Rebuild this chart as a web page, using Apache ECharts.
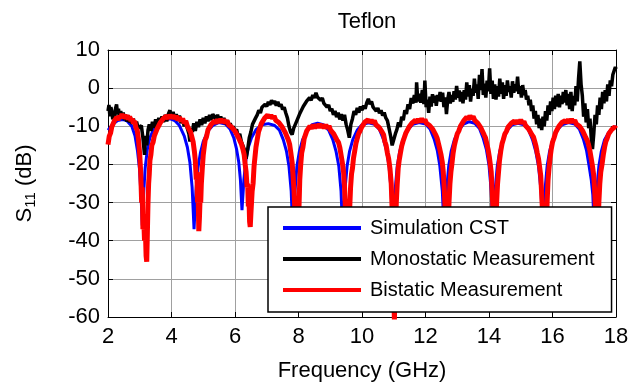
<!DOCTYPE html>
<html>
<head>
<meta charset="utf-8">
<script src="https://cdn.jsdelivr.net/npm/echarts@6/dist/echarts.min.js"></script>
<style>html,body{margin:0;padding:0;background:#fff;}#c{width:635px;height:387px;}</style>
</head>
<body>
<div id="c"></div>
<script>
var xTicks = [2, 4, 6, 8, 10, 12, 14, 16, 18];
var yTicks = [-60, -50, -40, -30, -20, -10, 0, 10];
var seriesNames = ['Simulation CST', 'Monostatic Measurement', 'Bistatic Measurement'];

var simulationCST = [
[2.00,-11.0],[2.15,-9.5],[2.30,-8.5],[2.45,-8.2],[2.60,-8.6],[2.75,-10.0],[2.85,-12.5],[2.93,-16.5],[2.99,-21],[3.04,-28],[3.08,-36],[3.12,-28],[3.17,-21],[3.24,-16],[3.32,-13],[3.45,-10.5],[3.60,-9.0],[3.78,-8.2],[3.95,-8.0],[4.10,-8.5],[4.25,-9.8],[4.40,-12.5],[4.50,-15.5],[4.58,-19.5],[4.65,-26],[4.71,-37],[4.77,-27],[4.83,-21],[4.91,-17],[5.00,-14],[5.15,-11.2],[5.30,-9.8],[5.50,-9.0],[5.70,-9.4],[5.85,-10.8],[5.96,-13],[6.05,-16],[6.12,-19.5],[6.17,-24],[6.22,-32],[6.28,-24],[6.34,-19],[6.42,-15.5],[6.52,-13],[6.67,-10.8],[6.85,-9.6],[7.05,-9.3],[7.25,-9.8],[7.40,-11],[7.52,-13.5],[7.62,-16.5],[7.70,-20.5],[7.77,-27],[7.83,-40],[7.89,-27],[7.95,-20.5],[8.03,-16.5],[8.13,-13.5],[8.28,-11],[8.43,-9.6],[8.60,-9.2],[8.78,-9.6],[8.95,-11],[9.08,-13.5],[9.18,-16.5],[9.27,-20.5],[9.34,-27],[9.40,-40],[9.46,-27],[9.53,-20.5],[9.61,-16.5],[9.71,-13.5],[9.85,-11],[10.00,-9.6],[10.20,-9.1],[10.40,-9.5],[10.55,-10.8],[10.67,-13.3],[10.77,-16.3],[10.85,-20.3],[10.92,-27],[10.98,-42],[11.04,-27],[11.11,-20.5],[11.19,-16.5],[11.29,-13.5],[11.44,-11],[11.60,-9.5],[11.80,-9.0],[12.00,-9.4],[12.15,-10.8],[12.27,-13.3],[12.37,-16.3],[12.45,-20.3],[12.53,-27],[12.60,-40],[12.66,-27],[12.73,-20.5],[12.81,-16.5],[12.91,-13.5],[13.05,-11],[13.20,-9.4],[13.38,-8.8],[13.55,-9.2],[13.70,-10.6],[13.82,-13.2],[13.92,-16.2],[14.00,-20.2],[14.07,-27],[14.13,-40],[14.19,-27],[14.26,-20.5],[14.34,-16.5],[14.44,-13.5],[14.58,-11],[14.73,-9.6],[14.92,-9.2],[15.10,-9.6],[15.25,-11],[15.37,-13.5],[15.47,-16.5],[15.56,-20.5],[15.64,-27],[15.70,-40],[15.76,-27],[15.83,-20.5],[15.91,-16.5],[16.01,-13.5],[16.15,-11],[16.30,-9.6],[16.50,-9.0],[16.70,-9.4],[16.85,-10.8],[16.97,-13.3],[17.07,-16.3],[17.15,-20.3],[17.22,-24],[17.27,-28],[17.33,-40],[17.39,-27],[17.46,-20.5],[17.54,-16.5],[17.64,-13.5],[17.78,-11.5],[17.90,-10.5],[18.00,-10.0]
];

var monostatic = [
[2.00,-6.0],[2.03,-4.4],[2.06,-7.4],[2.09,-5.0],[2.12,-6.0],[2.15,-8.2],[2.18,-6.2],[2.21,-8.0],[2.24,-5.2],[2.27,-4.3],[2.30,-6.8],[2.33,-5.4],[2.36,-7.6],[2.40,-6.0],[2.44,-7.8],[2.48,-6.4],[2.52,-8.4],[2.56,-7.0],[2.60,-8.8],[2.64,-7.2],[2.68,-9.0],[2.72,-7.8],[2.76,-9.4],[2.80,-8.0],[2.85,-9.8],[2.90,-8.8],[2.95,-10.5],[3.00,-11.0],[3.05,-9.8],[3.10,-13.0],[3.15,-17.5],[3.18,-12.5],[3.22,-15],[3.26,-11],[3.30,-9.5],[3.35,-11.2],[3.40,-8.8],[3.45,-10.4],[3.50,-8.2],[3.55,-9.8],[3.60,-7.8],[3.65,-9.2],[3.70,-7.4],[3.75,-8.9],[3.80,-7.0],[3.85,-8.7],[3.90,-6.8],[3.95,-5.8],[4.00,-7.9],[4.05,-6.2],[4.10,-8.1],[4.15,-6.8],[4.20,-8.6],[4.25,-7.2],[4.30,-9.2],[4.35,-8.0],[4.40,-10.0],[4.45,-8.6],[4.50,-10.6],[4.55,-12.0],[4.58,-14.0],[4.62,-10.5],[4.66,-11.5],[4.70,-9.2],[4.75,-11.2],[4.80,-8.8],[4.85,-10.2],[4.90,-8.2],[4.95,-9.7],[5.00,-7.8],[5.05,-9.2],[5.10,-7.4],[5.15,-8.7],[5.20,-7.0],[5.25,-8.4],[5.30,-6.8],[5.35,-6.5],[5.40,-8.2],[5.45,-7.0],[5.50,-8.5],[5.55,-7.4],[5.60,-9.0],[5.65,-7.8],[5.70,-9.4],[5.75,-8.4],[5.80,-10.0],[5.85,-9.2],[5.90,-10.7],[5.95,-10.0],[6.00,-11.4],[6.05,-10.8],[6.10,-12.7],[6.15,-12.0],[6.20,-14.0],[6.25,-14.3],[6.30,-16.2],[6.35,-18.5],[6.40,-16.0],[6.45,-13.0],[6.50,-11.5],[6.55,-9.5],[6.60,-10.0],[6.65,-7.8],[6.70,-7.0],[6.75,-5.8],[6.80,-6.5],[6.85,-5.0],[6.90,-5.5],[6.95,-4.2],[7.00,-4.8],[7.05,-3.6],[7.10,-4.4],[7.15,-3.2],[7.20,-4.0],[7.25,-3.4],[7.30,-4.6],[7.35,-3.6],[7.40,-4.8],[7.45,-4.2],[7.50,-5.6],[7.55,-5.0],[7.60,-6.5],[7.65,-7.8],[7.70,-10.0],[7.75,-11.5],[7.80,-12.2],[7.85,-10.5],[7.90,-11.0],[7.95,-8.5],[8.00,-9.0],[8.05,-6.5],[8.10,-7.0],[8.15,-4.8],[8.20,-5.2],[8.25,-3.5],[8.30,-4.0],[8.35,-2.5],[8.40,-3.2],[8.45,-1.8],[8.50,-2.6],[8.55,-1.2],[8.60,-2.4],[8.65,-2.0],[8.70,-3.2],[8.75,-2.6],[8.80,-4.0],[8.85,-3.6],[8.90,-5.0],[8.95,-4.4],[9.00,-6.0],[9.05,-5.4],[9.10,-7.0],[9.15,-6.0],[9.20,-7.6],[9.25,-6.4],[9.30,-8.2],[9.35,-6.8],[9.40,-8.5],[9.45,-7.0],[9.50,-9.5],[9.55,-11.0],[9.60,-13.0],[9.65,-9.5],[9.70,-8.0],[9.75,-6.0],[9.80,-7.0],[9.85,-5.2],[9.90,-6.4],[9.95,-4.8],[10.00,-5.8],[10.05,-4.6],[10.10,-5.4],[10.15,-3.8],[10.20,-2.8],[10.25,-4.2],[10.30,-3.5],[10.35,-5.0],[10.40,-4.6],[10.45,-6.0],[10.50,-5.2],[10.55,-6.6],[10.60,-5.8],[10.65,-7.2],[10.70,-6.4],[10.75,-7.8],[10.80,-8.5],[10.85,-10.5],[10.90,-12.5],[10.95,-15.0],[11.00,-14.5],[11.05,-12.0],[11.10,-10.8],[11.15,-9.0],[11.20,-10.2],[11.25,-7.5],[11.30,-8.4],[11.35,-5.8],[11.40,-6.8],[11.45,-4.2],[11.50,-5.5],[11.55,-2.6],[11.60,-4.0],[11.65,-1.8],[11.70,-3.8],[11.72,1.5],[11.76,-3.5],[11.80,-1.5],[11.85,-3.8],[11.90,-0.5],[11.95,-4.2],[11.98,2.0],[12.02,-5.0],[12.06,-3.0],[12.10,-6.5],[12.14,-2.2],[12.18,-4.8],[12.22,-1.6],[12.26,-3.8],[12.30,-2.0],[12.34,-4.6],[12.38,-1.8],[12.42,-3.4],[12.46,-1.0],[12.50,-3.6],[12.54,-1.2],[12.58,-5.0],[12.62,-2.4],[12.66,-6.8],[12.70,-3.0],[12.74,-1.0],[12.78,-4.0],[12.82,-1.8],[12.86,-3.6],[12.90,-0.8],[12.94,-3.0],[12.98,0.6],[13.02,-2.5],[13.06,-0.6],[13.10,-3.5],[13.14,-1.0],[13.18,-4.0],[13.22,-0.5],[13.26,-3.0],[13.30,1.5],[13.34,-2.2],[13.38,0.8],[13.42,-3.5],[13.46,-0.2],[13.50,-2.0],[13.54,2.5],[13.58,-1.2],[13.62,1.0],[13.66,-2.8],[13.70,3.5],[13.74,-0.5],[13.78,5.0],[13.82,-1.8],[13.86,1.2],[13.90,-2.5],[13.94,2.0],[13.98,-0.8],[14.02,5.2],[14.06,-1.5],[14.10,2.0],[14.14,-2.8],[14.18,1.0],[14.22,-3.0],[14.26,0.5],[14.30,-2.2],[14.34,2.5],[14.38,-1.5],[14.42,1.5],[14.46,-2.8],[14.50,0.8],[14.54,-2.0],[14.58,2.0],[14.62,-1.0],[14.66,0.5],[14.70,-2.5],[14.74,1.8],[14.78,-1.2],[14.82,1.0],[14.86,-0.8],[14.90,3.0],[14.94,-1.5],[14.98,0.5],[15.02,-2.5],[15.06,0.8],[15.10,-1.8],[15.14,-0.5],[15.18,-3.0],[15.22,-2.0],[15.26,-4.5],[15.30,-3.0],[15.34,-6.0],[15.38,-4.5],[15.42,-8.0],[15.46,-6.0],[15.50,-9.5],[15.54,-7.0],[15.58,-10.5],[15.62,-8.0],[15.66,-11.0],[15.70,-7.5],[15.74,-10.0],[15.78,-6.0],[15.82,-8.5],[15.86,-4.5],[15.90,-7.0],[15.94,-3.5],[15.98,-6.0],[16.02,-2.5],[16.06,-5.5],[16.10,-2.0],[16.14,-4.8],[16.18,-1.5],[16.22,-5.0],[16.26,-2.0],[16.30,-4.2],[16.34,-1.0],[16.38,-3.8],[16.42,-0.5],[16.46,-4.5],[16.50,-1.5],[16.54,-5.5],[16.58,-1.0],[16.62,-6.0],[16.66,-2.0],[16.70,-4.5],[16.74,0.5],[16.78,-3.5],[16.82,2.5],[16.86,7.0],[16.90,1.0],[16.94,-2.0],[16.98,-7.5],[17.02,-4.0],[17.06,-9.0],[17.10,-5.5],[17.14,-10.5],[17.18,-8.0],[17.22,-13.0],[17.26,-16.0],[17.30,-12.0],[17.34,-7.0],[17.38,-9.5],[17.42,-4.5],[17.46,-7.0],[17.50,-2.5],[17.54,-5.5],[17.58,-1.0],[17.62,-4.0],[17.66,-0.5],[17.70,-3.5],[17.74,1.0],[17.78,-2.0],[17.82,2.0],[17.86,0.5],[17.90,3.5],[17.94,4.0],[17.98,5.5],[18.00,5.0]
];

var bistatic = [
[2.00,-14.8],[2.04,-12.6],[2.08,-11.8],[2.12,-10.1],[2.16,-10.0],[2.20,-8.6],[2.24,-9.0],[2.28,-7.6],[2.32,-8.4],[2.36,-7.2],[2.40,-7.9],[2.44,-6.8],[2.48,-7.8],[2.52,-7.0],[2.56,-8.0],[2.60,-7.1],[2.64,-8.2],[2.68,-7.4],[2.72,-8.6],[2.76,-8.0],[2.80,-9.2],[2.84,-8.6],[2.88,-10.4],[2.92,-11.0],[2.96,-13.5],[3.00,-17.5],[3.03,-22],[3.06,-30],[3.08,-26],[3.10,-37],[3.12,-33],[3.15,-40],[3.18,-38],[3.20,-44],[3.22,-45.5],[3.24,-38],[3.26,-30],[3.28,-25],[3.30,-22.5],[3.32,-19],[3.35,-17.5],[3.38,-15],[3.42,-14.2],[3.46,-12.5],[3.50,-12.4],[3.55,-10.6],[3.60,-10.4],[3.65,-9.0],[3.70,-9.2],[3.75,-7.9],[3.80,-8.4],[3.85,-7.3],[3.90,-8.0],[3.95,-7.0],[4.00,-7.9],[4.05,-7.1],[4.10,-8.0],[4.15,-7.3],[4.20,-8.4],[4.25,-7.6],[4.30,-8.7],[4.35,-8.0],[4.40,-9.2],[4.45,-8.6],[4.50,-10.0],[4.55,-9.8],[4.60,-11.5],[4.64,-11.8],[4.68,-14.0],[4.72,-16.5],[4.75,-19],[4.78,-24],[4.80,-22],[4.82,-30],[4.84,-28],[4.86,-37.5],[4.88,-34],[4.90,-29],[4.92,-30],[4.94,-25],[4.97,-21],[5.00,-17.5],[5.03,-15.5],[5.06,-13.6],[5.10,-12.8],[5.15,-10.9],[5.20,-11.0],[5.25,-9.5],[5.30,-9.8],[5.35,-8.6],[5.40,-9.2],[5.45,-8.2],[5.50,-9.0],[5.55,-8.1],[5.60,-9.0],[5.65,-8.2],[5.70,-9.2],[5.75,-8.5],[5.80,-9.6],[5.85,-9.1],[5.90,-10.3],[5.95,-10.0],[6.00,-11.3],[6.05,-11.4],[6.10,-12.8],[6.15,-13.3],[6.20,-14.6],[6.25,-16.0],[6.29,-17.5],[6.32,-20],[6.35,-22],[6.38,-26],[6.40,-25],[6.42,-31],[6.44,-29],[6.46,-35],[6.48,-36.4],[6.50,-33],[6.52,-30],[6.54,-27],[6.57,-25],[6.60,-20.5],[6.63,-18],[6.66,-15.5],[6.70,-13.5],[6.74,-11.5],[6.78,-11.0],[6.83,-9.3],[6.88,-9.2],[6.93,-7.9],[6.98,-8.2],[7.03,-7.0],[7.08,-7.8],[7.13,-7.0],[7.18,-8.0],[7.23,-7.3],[7.28,-8.4],[7.33,-7.9],[7.38,-9.0],[7.43,-8.8],[7.48,-10.1],[7.53,-10.0],[7.58,-11.6],[7.63,-12.0],[7.68,-13.6],[7.72,-14.7],[7.76,-17],[7.80,-19.5],[7.83,-23],[7.86,-27],[7.89,-33],[7.92,-40],[7.95,-45],[7.98,-40],[8.01,-33],[8.04,-24],[8.07,-20],[8.10,-17],[8.14,-15.5],[8.18,-13.2],[8.22,-12.8],[8.26,-11.2],[8.31,-11.3],[8.36,-10.0],[8.41,-10.6],[8.46,-9.6],[8.51,-10.5],[8.56,-9.5],[8.61,-10.4],[8.66,-9.4],[8.71,-10.4],[8.76,-9.5],[8.81,-10.5],[8.86,-9.6],[8.91,-10.6],[8.96,-9.9],[9.01,-11.0],[9.06,-10.6],[9.11,-12.0],[9.16,-12.2],[9.21,-13.6],[9.26,-14.2],[9.30,-15.5],[9.34,-17.5],[9.38,-19.5],[9.42,-22],[9.45,-26],[9.48,-32],[9.51,-38],[9.55,-45],[9.58,-40],[9.61,-32],[9.64,-26],[9.67,-22.5],[9.70,-21],[9.73,-18.5],[9.77,-16.5],[9.81,-14.5],[9.85,-13.2],[9.89,-12.0],[9.94,-11.2],[9.99,-10.2],[10.04,-10.0],[10.09,-8.9],[10.14,-9.3],[10.19,-8.3],[10.24,-9.0],[10.29,-8.3],[10.34,-9.2],[10.39,-8.5],[10.44,-9.6],[10.49,-9.1],[10.54,-10.3],[10.59,-10.1],[10.64,-11.6],[10.68,-12.2],[10.72,-14.0],[10.76,-15.0],[10.80,-17.0],[10.84,-18.5],[10.88,-21],[10.92,-25],[10.95,-32],[10.98,-42],[11.00,-52],[11.02,-61],[11.04,-52],[11.06,-40],[11.08,-30],[11.11,-25],[11.14,-21],[11.17,-19],[11.21,-17],[11.25,-15.2],[11.29,-14.0],[11.33,-13.0],[11.38,-11.8],[11.43,-11.3],[11.48,-10.2],[11.53,-10.2],[11.58,-9.1],[11.63,-9.4],[11.68,-8.4],[11.73,-9.0],[11.78,-8.1],[11.83,-8.9],[11.88,-8.0],[11.93,-8.9],[11.98,-8.2],[12.03,-9.2],[12.08,-8.8],[12.13,-9.8],[12.18,-9.6],[12.23,-10.8],[12.28,-11.0],[12.33,-12.4],[12.37,-13.2],[12.41,-14.6],[12.45,-16.0],[12.49,-17.5],[12.53,-19.5],[12.56,-22],[12.59,-26],[12.62,-32],[12.65,-38],[12.68,-45],[12.71,-38],[12.74,-30],[12.77,-25],[12.80,-22],[12.83,-20],[12.87,-17],[12.91,-15],[12.95,-13.6],[13.00,-12.0],[13.05,-11.2],[13.10,-10.0],[13.15,-9.8],[13.20,-8.6],[13.25,-8.7],[13.30,-7.6],[13.35,-8.2],[13.40,-7.2],[13.45,-8.0],[13.50,-7.4],[13.55,-8.4],[13.60,-8.0],[13.65,-9.2],[13.70,-9.1],[13.75,-10.5],[13.80,-10.8],[13.85,-12.3],[13.89,-13.0],[13.93,-14.5],[13.97,-16.0],[14.01,-18.0],[14.04,-20],[14.07,-22],[14.10,-27],[14.13,-33],[14.16,-40],[14.18,-45],[14.21,-38],[14.24,-30],[14.27,-25],[14.30,-22],[14.33,-19],[14.37,-16.5],[14.41,-14.6],[14.45,-13.5],[14.50,-12.0],[14.55,-11.3],[14.60,-10.2],[14.65,-10.2],[14.70,-9.2],[14.75,-9.6],[14.80,-8.6],[14.85,-9.3],[14.90,-8.4],[14.95,-9.2],[15.00,-8.3],[15.05,-9.3],[15.10,-8.7],[15.15,-9.8],[15.20,-9.5],[15.25,-10.7],[15.30,-10.8],[15.35,-12.2],[15.40,-12.8],[15.44,-14.0],[15.48,-15.2],[15.52,-17.0],[15.56,-18.5],[15.60,-21],[15.63,-23],[15.66,-28],[15.69,-33],[15.72,-40],[15.77,-45],[15.80,-38],[15.83,-30],[15.86,-24],[15.89,-21],[15.92,-18.5],[15.96,-16],[16.00,-14.2],[16.05,-13.0],[16.10,-11.6],[16.15,-11.2],[16.20,-10.0],[16.25,-10.1],[16.30,-9.0],[16.35,-9.4],[16.40,-8.5],[16.45,-9.1],[16.50,-8.2],[16.55,-9.0],[16.60,-8.1],[16.65,-9.0],[16.70,-8.4],[16.75,-9.4],[16.80,-9.0],[16.85,-10.0],[16.90,-9.9],[16.95,-11.2],[17.00,-11.6],[17.05,-13.0],[17.10,-13.8],[17.14,-15.0],[17.18,-16.5],[17.22,-18.5],[17.26,-20.5],[17.30,-23],[17.33,-27],[17.36,-33],[17.38,-40],[17.40,-45],[17.43,-38],[17.46,-30],[17.49,-25],[17.52,-22],[17.56,-20],[17.60,-17.5],[17.64,-15.5],[17.68,-14.0],[17.72,-13.2],[17.77,-12.0],[17.82,-11.8],[17.87,-10.8],[17.92,-11.0],[17.96,-10.2],[18.00,-10.6]
];

var FONT = 'Liberation Sans, Arial, sans-serif';
var chart = echarts.init(document.getElementById('c'), null, {renderer: 'canvas'});
var xMin = xTicks[0], xMax = xTicks[xTicks.length - 1], xStep = xTicks[1] - xTicks[0];
var yMin = yTicks[0], yMax = yTicks[yTicks.length - 1], yStep = yTicks[1] - yTicks[0];

function xAxisCfg(pos, show) {
  return {
    type: 'value', position: pos, min: xMin, max: xMax, interval: xStep,
    axisLine: {show: true, onZero: false, lineStyle: {color: '#000', width: 1}},
    axisTick: {show: true, inside: true, length: 5, lineStyle: {color: '#000'}},
    axisLabel: {show: show, color: '#000', fontSize: 22, fontFamily: FONT, margin: 9},
    splitLine: {show: show, lineStyle: {color: '#a0a0a0', width: 1}}
  };
}
function yAxisCfg(pos, show) {
  return {
    type: 'value', position: pos, min: yMin, max: yMax, interval: yStep,
    axisLine: {show: true, onZero: false, lineStyle: {color: '#000', width: 1}},
    axisTick: {show: true, inside: true, length: 5, lineStyle: {color: '#000'}},
    axisLabel: {show: show, color: '#000', fontSize: 22, fontFamily: FONT, margin: 8},
    splitLine: {show: show, lineStyle: {color: '#a0a0a0', width: 1}}
  };
}

var xa = xAxisCfg('bottom', true);
xa.name = 'Frequency (GHz)';
xa.nameLocation = 'middle';
xa.nameGap = 43;
xa.nameTextStyle = {color: '#000', fontSize: 22, fontFamily: FONT};
var xb = xAxisCfg('top', false);

var ya = yAxisCfg('left', true);
ya.name = '{s|S}{sub|11}{s| (dB)}';
ya.nameLocation = 'middle';
ya.nameGap = 70;
ya.nameRotate = 90;
ya.nameTextStyle = {color: '#000', fontFamily: FONT, rich: {
  s: {fontSize: 22, fontFamily: FONT, color: '#000'},
  sub: {fontSize: 15, fontFamily: FONT, color: '#000', padding: [12, 0, 0, 0]}
}};
var yb = yAxisCfg('right', false);

chart.setOption({
  animation: false,
  backgroundColor: '#fff',
  title: {text: 'Teflon', left: 362, top: 6, textAlign: 'center',
    textStyle: {color: '#000', fontSize: 22, fontWeight: 'normal', fontFamily: FONT}},
  grid: {left: 108, right: 19, top: 50, bottom: 68, containLabel: false},
  xAxis: [xa, xb],
  yAxis: [ya, yb],
  legend: {
    data: seriesNames, orient: 'vertical', left: 268, top: 207, z: 50, zlevel: 1,
    backgroundColor: '#fff', borderColor: '#000', borderWidth: 1.5,
    padding: [11, 17, 12, 15], itemGap: 11, itemWidth: 78, itemHeight: 4,
    icon: 'rect', selectedMode: false,
    textStyle: {color: '#000', fontSize: 20, fontFamily: FONT, lineHeight: 20, padding: [0, 0, 0, 4]}
  },
  series: [
    {name: seriesNames[0], type: 'line', data: simulationCST, showSymbol: false, symbol: 'none',
      lineStyle: {color: '#0000ff', width: 3}, itemStyle: {color: '#0000ff'}, z: 2},
    {name: seriesNames[1], type: 'line', data: monostatic, showSymbol: false, symbol: 'none',
      lineStyle: {color: '#000000', width: 3.5}, itemStyle: {color: '#000000'}, z: 3},
    {name: seriesNames[2], type: 'line', data: bistatic, showSymbol: false, symbol: 'none',
      lineStyle: {color: '#ff0000', width: 5}, itemStyle: {color: '#ff0000'}, z: 4}
  ]
});
</script>
</body>
</html>
